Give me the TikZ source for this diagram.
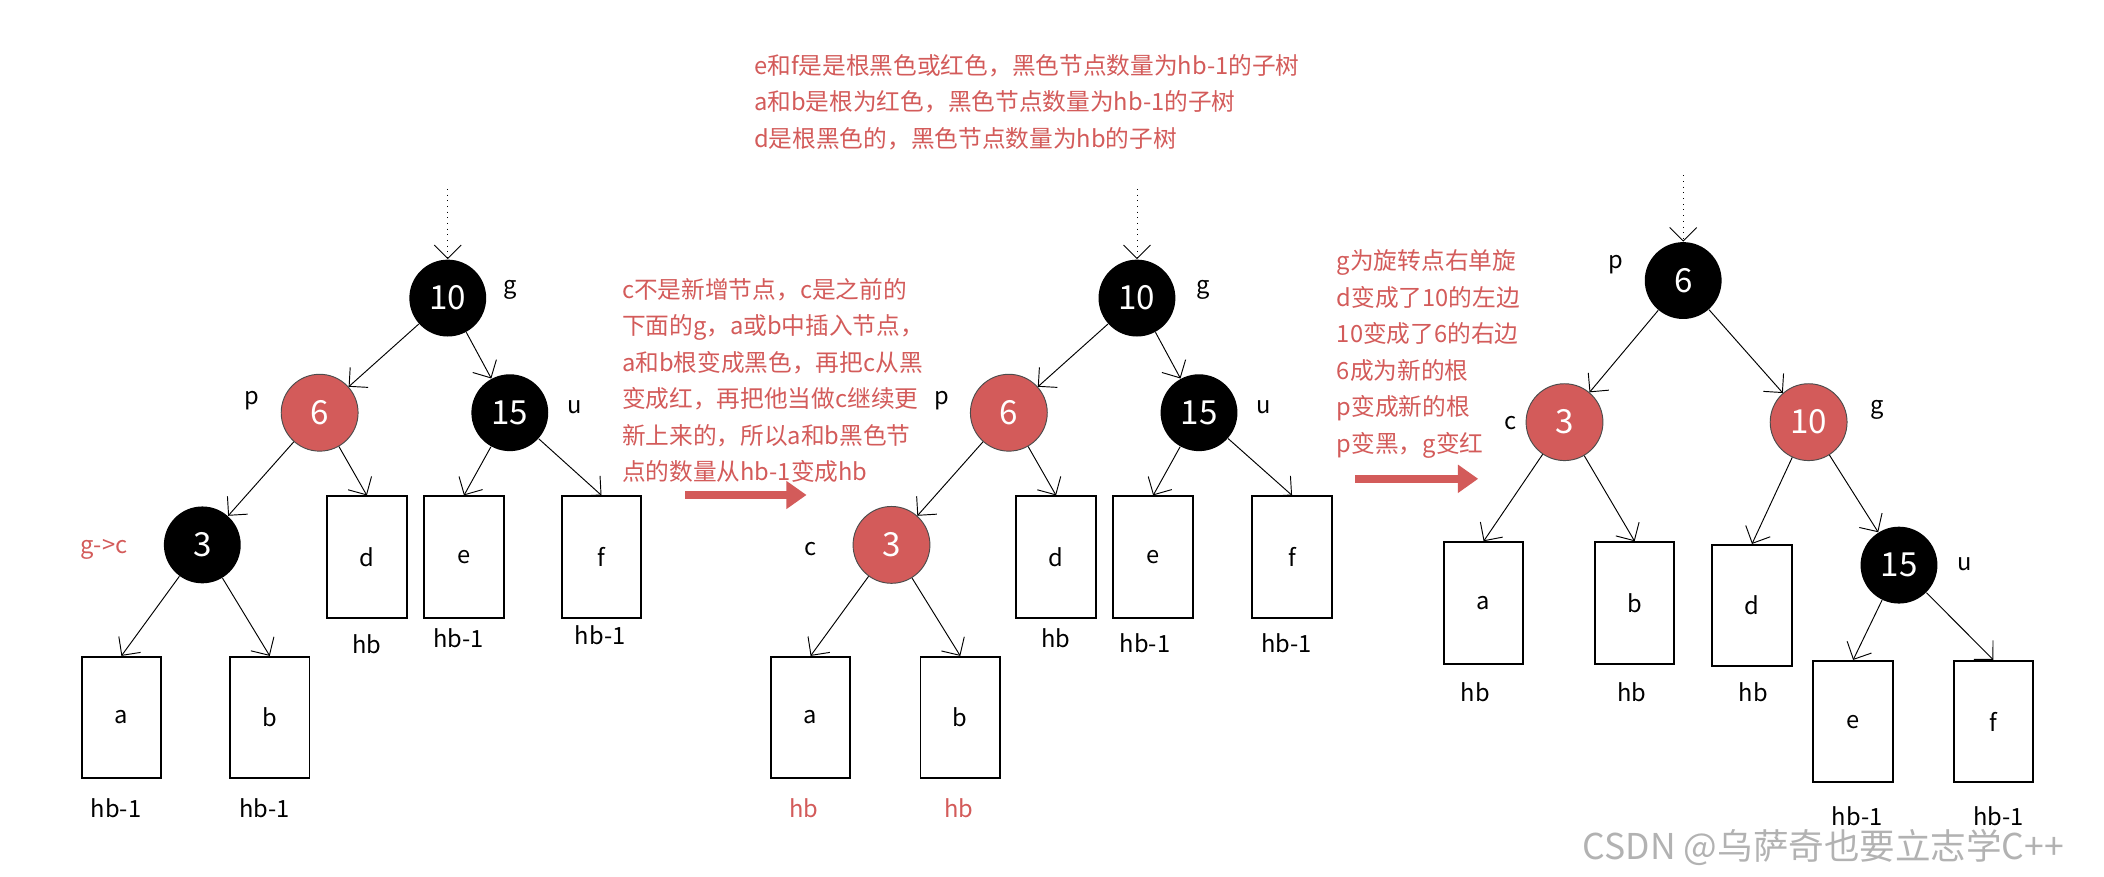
\documentclass[tikz,border=0pt]{standalone}
\usepackage{fontspec}
\setmainfont{Noto Sans CJK SC}
\usepackage{tikz}
\usetikzlibrary{arrows.meta}
\definecolor{rbred}{HTML}{D35B5A}
\tikzstyle{blacknode}=[
        circle, fill=black, text=white, minimum size=1.14cm, inner sep=0pt,
        font=\fontsize{14}{14}\selectfont
]
\tikzstyle{rednode}=[
        circle, fill=rbred, draw=black!70, text=white, minimum size=1.14cm, inner sep=0pt,
        font=\fontsize{14}{14}\selectfont
]
\tikzstyle{subtree}=[
        draw=black, thick, minimum width=1.18cm, minimum height=1.8cm,
        font=\fontsize{10}{10}\selectfont
]
\tikzstyle{edge}=[
        -{Straight Barb[length=2mm]}, thin
]
\tikzstyle{lbl}=[
        font=\fontsize{10}{10}\selectfont
]
\tikzstyle{note}=[
        text=rbred, align=left, anchor=north west,
        font=\fontsize{10}{15.4}\selectfont
]
\tikzstyle{bigarrow}=[
        -{Triangle[length=3mm,width=4mm]}, rbred, line width=1.2mm
]

\begin{document}
\begin{tikzpicture}[x=0.02cm,y=-0.02cm]
                        \useasboundingbox (0,0) rectangle (1560,650);

                        % first tree
                        \coordinate (top1) at (332,140);
                        \node[blacknode] (g1) at (332,221) {10};
                        \node[rednode] (p1) at (237,306) {6};
                        \node[blacknode] (u1) at (378,306) {15};
                        \node[blacknode] (c1) at (150,404) {3};
                        \node[subtree] (d1) at (272,413) {d};
                        \node[subtree] (e1) at (344,413) {e};
                        \node[subtree] (f1) at (446,413) {f};
                        \node[subtree] (a1) at (90,532) {a};
                        \node[subtree] (b1) at (200,532) {b};
                        \node[lbl] at (378,215) {g};
                        \node[lbl] at (187,297) {p};
                        \node[lbl] at (426,302) {u};
                        \node[lbl,text=rbred] at (77,407) {g->c};
                        \node[lbl] at (272,478) {hb};
                        \node[lbl] at (340,473) {hb-1};
                        \node[lbl] at (445,471) {hb-1};
                        \node[lbl] at (86,599) {hb-1};
                        \node[lbl] at (196,599) {hb-1};
                        \draw[edge,dotted] (top1) -- (g1);
                        \draw[edge] (g1) -- (p1);
                        \draw[edge] (g1) -- (u1);
                        \draw[edge] (p1) -- (c1);
                        \draw[edge] (p1) -- (d1.north);
                        \draw[edge] (u1) -- (e1.north);
                        \draw[edge] (u1) -- (f1.north);
                        \draw[edge] (c1) -- (a1.north);
                        \draw[edge] (c1) -- (b1.north);

                        \node[note] (txt1) at (455,200) {c不是新增节点，c是之前的\\下面的g，a或b中插入节点，\\a和b根变成黑色，再把c从黑\\变成红，再把他当做c继续更\\新上来的，所以a和b黑色节\\点的数量从hb-1变成hb};
                        \coordinate (arr1s) at (508,367);
                        \coordinate (arr1e) at (598,367);
                        \draw[bigarrow] (arr1s) -- (arr1e);

                        % second tree
                        \node[note] (txt0) at (553,34) {e和f是是根黑色或红色，黑色节点数量为hb-1的子树\\a和b是根为红色，黑色节点数量为hb-1的子树\\d是根黑色的，黑色节点数量为hb的子树};
                        \coordinate (top2) at (843,140);
                        \node[blacknode] (g2) at (843,221) {10};
                        \node[rednode] (p2) at (748,306) {6};
                        \node[blacknode] (u2) at (889,306) {15};
                        \node[rednode] (c2) at (661,404) {3};
                        \node[subtree] (d2) at (783,413) {d};
                        \node[subtree] (e2) at (855,413) {e};
                        \node[subtree] (f2) at (958,413) {f};
                        \node[subtree] (a2) at (601,532) {a};
                        \node[subtree] (b2) at (712,532) {b};
                        \node[lbl] at (892,215) {g};
                        \node[lbl] at (698,297) {p};
                        \node[lbl] at (937,302) {u};
                        \node[lbl] at (601,407) {c};
                        \node[lbl] at (783,473) {hb};
                        \node[lbl] at (849,477) {hb-1};
                        \node[lbl] at (954,477) {hb-1};
                        \node[lbl,text=rbred] at (596,599) {hb};
                        \node[lbl,text=rbred] at (711,599) {hb};
                        \draw[edge,dotted] (top2) -- (g2);
                        \draw[edge] (g2) -- (p2);
                        \draw[edge] (g2) -- (u2);
                        \draw[edge] (p2) -- (c2);
                        \draw[edge] (p2) -- (d2.north);
                        \draw[edge] (u2) -- (e2.north);
                        \draw[edge] (u2) -- (f2.north);
                        \draw[edge] (c2) -- (a2.north);
                        \draw[edge] (c2) -- (b2.north);

                        \node[note] (txt2) at (985,179) {g为旋转点右单旋\\d变成了10的左边\\10变成了6的右边\\6成为新的根\\p变成新的根\\p变黑，g变红};
                        \coordinate (arr2s) at (1005,355);
                        \coordinate (arr2e) at (1096,355);
                        \draw[bigarrow] (arr2s) -- (arr2e);

                        % third tree
                        \coordinate (top3) at (1248,130);
                        \node[blacknode] (p3) at (1248,208) {6};
                        \node[rednode] (c3) at (1160,313) {3};
                        \node[rednode] (g3) at (1341,313) {10};
                        \node[blacknode] (u3) at (1408,419) {15};
                        \node[subtree] (a3) at (1100,447) {a};
                        \node[subtree] (b3) at (1212,447) {b};
                        \node[subtree] (d3) at (1299,449) {d};
                        \node[subtree] (e3) at (1374,535) {e};
                        \node[subtree] (f3) at (1478,535) {f};
                        \node[lbl] at (1198,196) {p};
                        \node[lbl] at (1120,314) {c};
                        \node[lbl] at (1392,304) {g};
                        \node[lbl] at (1457,418) {u};
                        \node[lbl] at (1094,513) {hb};
                        \node[lbl] at (1210,513) {hb};
                        \node[lbl] at (1300,513) {hb};
                        \node[lbl] at (1377,605) {hb-1};
                        \node[lbl] at (1482,605) {hb-1};
                        \draw[edge,dotted] (top3) -- (p3);
                        \draw[edge] (p3) -- (c3);
                        \draw[edge] (p3) -- (g3);
                        \draw[edge] (c3) -- (a3.north);
                        \draw[edge] (c3) -- (b3.north);
                        \draw[edge] (g3) -- (d3.north);
                        \draw[edge] (g3) -- (u3);
                        \draw[edge] (u3) -- (e3.north);
                        \draw[edge] (u3) -- (f3.north);

                        \node[text=black!30,font=\fontsize{15}{15}\selectfont] at (1352,628) {CSDN @乌萨奇也要立志学C++};
                    \end{tikzpicture}
\end{document}
